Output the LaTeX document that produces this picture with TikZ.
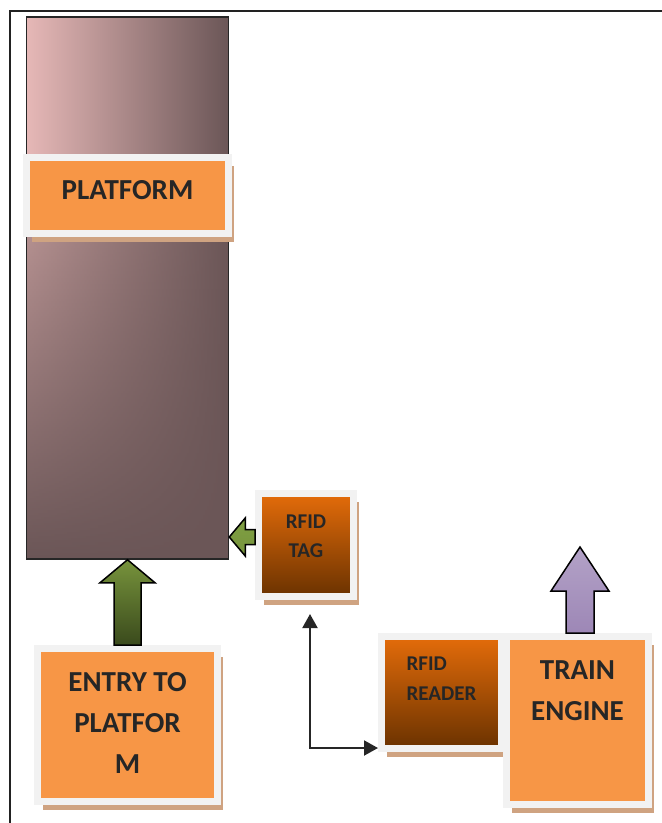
\documentclass[tikz,border=0pt]{standalone}
\usepackage{fontspec}
\setmainfont{Carlito}
\usetikzlibrary{calc,shadows,fadings,arrows.meta}

\definecolor{orangec}{HTML}{F79646}
\definecolor{borderc}{HTML}{F2F2F2}
\definecolor{shadowc}{HTML}{CFA381}
\definecolor{tagtop}{HTML}{E46C0A}
\definecolor{tagbot}{HTML}{6A3200}
\definecolor{greentop}{HTML}{77933C}
\definecolor{greenbot}{HTML}{3A4A1C}
\definecolor{greenlite}{HTML}{7FA043}
\definecolor{purpletop}{HTML}{B3A2C7}
\definecolor{purplebot}{HTML}{9D87B6}
\definecolor{pinkc}{HTML}{E6B8B7}
\definecolor{darkc}{HTML}{6B5657}
\definecolor{textc}{HTML}{262626}
\definecolor{framec}{HTML}{222222}

\newcommand{\blockarrow}[6]{%
  \coordinate (ah) at ($(#3)!#6!(#2)$);
  \shade[#1] ($(#2)!#4!90:(#3)$) -- ($(ah)!#4!90:(#3)$) -- ($(ah)!#5!90:(#3)$)
    -- (#3) -- ($(ah)!#5!-90:(#3)$) -- ($(ah)!#4!-90:(#3)$) -- ($(#2)!#4!-90:(#3)$) -- cycle;
}

\begin{document}
\begin{tikzpicture}[
		x=1pt, y=-1pt,
		box/.style={rectangle, draw=borderc, line width=7pt, inner sep=0pt,
			drop shadow={shadow xshift=5pt, shadow yshift=-8pt, fill=shadowc, opacity=1}},
		lbl/.style={text=textc, align=center, inner sep=0pt},
		big/.style={font=\fontsize{29}{41}\selectfont\bfseries},
		small/.style={font=\fontsize{21}{29}\selectfont\bfseries},
		greenblk/.style={draw=black, line width=1.5pt, top color=greentop, bottom color=greenbot},
		litegreenblk/.style={draw=black, line width=1.5pt, top color=greenlite, bottom color=greentop},
		purpleblk/.style={draw=black, line width=1.5pt, top color=purpletop, bottom color=purplebot},
		conn/.style={draw=textc, line width=2pt, >={Triangle[length=14pt,width=15pt]}, <->}
	]
  \useasboundingbox (0,0) rectangle (662,823);
  \draw[framec, line width=2pt] (10,823) |- (662,11);

  \node (platform) [draw=textc, line width=1.5pt, minimum width=202pt, minimum height=542pt,
    left color=pinkc, right color=darkc,
    path picture={\fill[darkc, path fading=north] (path picture bounding box.south west)
      rectangle ($(path picture bounding box.north east)+(0,145)$);}] at (127.5,288) {};

  \node (platlabel) [box, fill=orangec, minimum width=202pt, minimum height=76pt,
    label={[lbl, big, yshift=5.5pt]center:PLATFORM}] at (127.5,195.5) {};
  \node (tag) [box, top color=tagtop, bottom color=tagbot, minimum width=95pt, minimum height=103pt,
    label={[lbl, small, yshift=9pt]center:{RFID\\TAG}}] at (306,545) {};
  \node (entry) [box, fill=orangec, minimum width=180pt, minimum height=153pt,
    label={[lbl, big, yshift=2.5pt]center:{ENTRY TO\\PLATFOR\\M}}] at (127.5,725) {};
  \node (reader) [box, top color=tagtop, bottom color=tagbot, minimum width=120pt, minimum height=112pt,
    label={[lbl, small, yshift=13.5pt, align=left, font=\fontsize{21}{30}\selectfont\bfseries]center:{RFID\\READER}}] at (441.5,692.5) {};
  \node (engine) [box, fill=orangec, minimum width=142pt, minimum height=168pt,
    label={[lbl, big, yshift=30pt]center:{TRAIN\\ENGINE}}] at (577.5,720.5) {};

  \coordinate (tagarrow) at ($(tag.west)+(0,-8)$);
  \coordinate (platarrow) at (tagarrow -| platform.east);
  \coordinate (engbase) at ($(engine.north)+(2.5,0)$);
  \coordinate (engtip) at ($(engbase)+(0,-86)$);

  \blockarrow{greenblk}{entry.north}{platform.south}{13.5pt}{27.5pt}{23pt}
  \blockarrow{litegreenblk}{tagarrow}{platarrow}{7.5pt}{19pt}{16pt}
  \blockarrow{purpleblk}{engbase}{engtip}{14pt}{29pt}{44pt}

  \draw[conn] ($(tag.south)+(4,14)$) |- ($(reader.south west)+(0,-4)$);
\end{tikzpicture}
\end{document}
